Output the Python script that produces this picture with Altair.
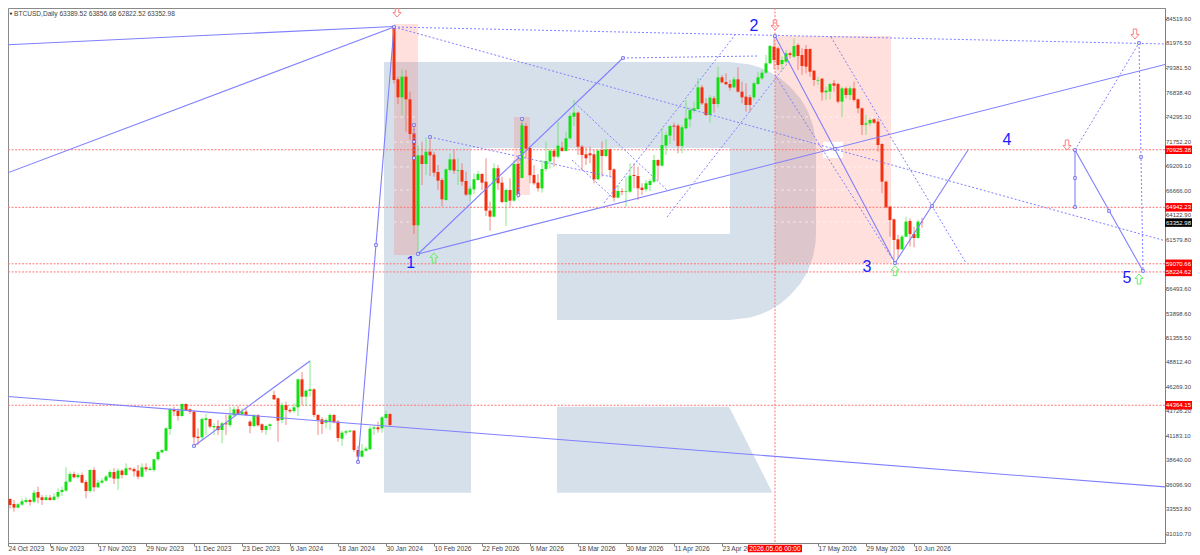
import json
import altair as alt
import pandas as pd

FONT = "Liberation Sans"
LINE = "#7f7fff"
REDLINE = "#ff7777"

opens = [31398,33581,34621,34101,33720,34032,34309,34517,34344,35349,34794,34517,34760,34517,34863,35349,35487,36423,37220,36873,37116,36388,35452,37636,35834,36319,36527,36873,37427,36735,
37566,37116,37809,37739,37566,36943,37913,37636,37636,38744,39472,39645,41897,43976,43803,43249,44496,43942,43699,41100,41031,42833,42937,42071,42209,41793,42487,42313,43318,43942,
43422,43699,42660,42209,43318,42383,41793,42209,45432,45085,42833,44392,43873,43769,44150,47060,45259,45848,46021,43353,42902,42556,42660,43353,42660,40893,41516,41620,41724,39714,
39021,39645,39784,41932,42071,41967,43041,43457,
83723,78248,76377,78525,76169,72635,63072,70348,69447,70729,70418,68616,67784,65705,68823,69932,68754,68823,67680,66259,66814,67784,68408,67611,64596,63972,69002,67507,65497,66745,
65636,69447,67992,73397,71110,68304,67507,66917,68927,69724,70833,70209,71145,70798,72115,74368,74783,71249,70452,70556,70452,67853,70903,70278,70972,68892,65947,66640,66571,
66571,68304,68200,66987,66814,67264,67611,69863,69274,71353,72392,73432,73432,71318,73155,74090,74991,75164,77417,75753,74541,76273,75684,78456,77971,77763,77417,78248,76966,76446,
76377,76377,77763,78352,78941,79911,81644,81471,79842,80085,80951,80605,81817,80778,81401,81401,79149,78110,78318,76897,76966,77833,77763,75927,77313,76620,77313,76169,75234,73536,
73674,74090,73848,71526,67611,65012,63695,61616,60577,61894,63522,62171,61755,63389.52]
highs = [35141,34863,34690,34517,34170,34690,34794,34656,35556,35903,35037,35037,35037,35210,35730,35903,37913,37462,37462,37289,37358,36596,37705,37913,36596,36769,37116,37636,37809,37809,
37705,38329,37913,37913,38155,38329,38329,37982,38744,39645,39784,42071,44046,44219,44046,44565,44565,44046,43873,41967,43110,43457,43006,42487,42833,42660,43353,44219,44219,44288,
44046,44046,42833,43457,43457,42487,42313,42487,45882,45189,44635,44739,44046,44565,47164,47823,46021,49001,46125,43457,43110,43006,43526,43457,42833,41724,41793,41793,41793,40130,
40338,40061,42209,42209,42660,43249,43803,43526,
83792,78525,79288,79218,76966,73501,71422,71769,72219,72219,70729,69343,67957,68997,70556,70903,70036,69516,68650,67160,68477,68754,68477,70036,65532,69517,69343,68130,66918,67957,
69863,70209,74021,73675,71249,69343,68408,69863,71769,71076,71076,73848,71769,72808,74714,76100,74887,71422,71180,71249,70903,70972,71769,72011,71076,68997,67264,66918,68130,
69516,69516,69170,67437,67784,67853,70383,69932,73155,72808,73501,73744,73605,73501,76100,75338,75927,78352,77659,76273,76620,76516,79565,78698,78872,78179,78525,79496,78006,77833,
76620,78006,79045,79218,80778,81817,82857,81644,80605,81298,81124,82510,81991,81471,81817,81471,79218,78525,78352,77486,77902,78179,77902,77486,77486,77555,78006,76273,75338,74541,
74194,74194,74194,71596,67715,65081,63799,62067,62067,63973,63799,62933,63626,63856.68]
lows = [31398,32958,33651,33304,33651,33928,34170,33928,34170,34170,33997,34448,34448,34448,34586,34933,35383,36319,36769,36769,36250,34690,35279,35383,35730,36180,36423,36769,36180,35556,
36769,37012,37566,36943,36665,36873,37462,37566,37462,38606,39368,39541,41274,43249,42764,43180,43803,43457,40130,40234,40754,41274,41967,41274,41274,40407,41274,42071,43249,43353,
43353,43249,41447,42071,42140,41516,41274,41793,44912,40581,42487,42313,43526,43595,43249,44392,44288,45259,43110,41274,41378,41967,41793,42487,40581,40130,41274,41516,39541,38398,
38952,39541,39714,41274,41516,41516,42971,42209,
77832,75684,74541,72808,71942,62171,60057,67264,68304,68200,68130,66745,65081,65636,68650,68408,67264,67160,66121,65532,66329,67715,66745,64042,62517,63903,66745,65359,63002,65012,
65532,65878,67957,70036,67438,67264,66571,66467,68650,68997,69170,70036,70729,70729,72011,73397,70383,68823,69343,69516,67438,67784,68130,70140,68130,65532,65878,66225,65012,
66398,66917,65705,66225,66571,66640,67438,67715,69170,70383,71526,71873,70556,70556,73051,73259,74783,75061,75580,74437,73744,74783,75338,77832,77659,77070,77313,76862,75753,74887,
74887,76100,77659,78179,78803,79808,79288,79218,79218,79911,80431,80431,79218,78699,78872,78525,77555,77659,76036,76100,76169,76966,75753,74298,76273,76100,75927,74714,72462,72462,
73397,73605,70729,66398,64839,61894,59468,59641,60507,61824,60854,60785,61685,62822.52]
closes = [33581,34586,33997,33720,34066,34378,34517,34309,35279,34760,34517,34794,34517,34863,35349,35556,36423,37220,36873,37116,36319,35452,37636,35834,36319,36527,36943,37427,36735,37566,
37116,37809,37705,37497,36943,37913,37705,37774,38744,39507,39714,41967,43976,43734,43249,44496,43873,43699,41031,40962,42937,43006,42140,42209,41793,42487,42383,43318,43942,43457,
43699,43353,42209,43318,42279,41793,42209,42383,44981,42764,44392,43873,43734,44150,47060,45259,45882,46021,43353,42833,42417,42833,43353,42590,40962,41516,41655,41724,39714,39021,
39645,39853,41932,42071,41863,43110,43457,42313,
78179,76377,78525,76169,72566,63072,70348,69447,70729,70348,68546,67715,65774,68893,69932,68754,68823,67611,66259,66883,67853,68408,67507,64596,63972,69002,67438,65497,66745,65636,
69447,66225,73467,71041,68269,67438,66917,68927,69759,70833,70209,71353,70798,72115,74437,74783,71249,70383,70036,70348,67853,70833,70278,70972,68823,65947,66640,66571,66640,
68234,68200,66917,66744,67438,67680,69863,69274,71422,72462,73397,73328,71318,73259,74194,75061,75234,77417,75753,74541,76343,75684,78456,77936,77729,77382,78248,76966,76377,75580,
75580,77833,78456,78941,79911,81713,80258,79738,80258,80951,80778,81713,80674,79634,79565,79045,78179,78179,76897,77070,77763,77590,75927,77313,76620,77313,76100,75234,73501,73674,
74021,73744,71422,67611,64943,63626,61547,60577,61894,63453,62171,61755,63453,63352.98]

price_ticks = [84519.60,81976.50,79381.50,76838.40,74295.30,71752.20,69209.10,66666.00,64122.90,61579.80,56493.60,53898.60,51355.50,48812.40,46269.30,43726.20,41183.10,38640.00,36096.90,33553.80,31010.70]
date_bars = [1.5,12,24,36,48,60,72,84,96,108,120,132,144,156,168,180,204,216,228]
date_labels = ["24 Oct 2023","5 Nov 2023","17 Nov 2023","29 Nov 2023","11 Dec 2023","23 Dec 2023","6 Jan 2024","18 Jan 2024","30 Jan 2024","10 Feb 2026","22 Feb 2026","6 Mar 2026","18 Mar 2026","30 Mar 2026","11 Apr 2026","23 Apr 2026","17 May 2026","29 May 2026","10 Jun 2026"]

level_prices = [70925.38,64942.23,59070.66,58224.62,44364.15]
last_price = [63352.98]
header = "BTCUSD,Daily  63389.52 63856.68 62822.52 63352.98"
marked_bar = [193.25]
marked_time = "2026.05.06 00:00"

solid_x = [(0,98),(0,98),(89,98),(0,291),(48,77),(104,291.25),(104,155.25),(193.25,223.25),(223.25,241.5),(268.25,268.25),(268.25,285.25)]
solid_y = [(81817,83740),(68302,83688),(38466,83688),(45327,35866),(40128,48966),(60089,79841),(60089,80465),(82752,59153),(59153,70901),(70901,64975),(70901,58322)]
dotted_x = [(155.25,189),(98,291),(98,291),(107,152.5),(143.25,166.25),(142.5,152.5),(150.5,183.25),(166.25,197),(193.25,223.25),(207.25,241),(268.25,284.25),(284.25,285.25),(103,103),(130,129.1)]
dotted_y = [(80465,80673),(83688,81921),(83688,61441),(72252,68094),(75787,66742),(69861,66015),(65391,82856),(63936,80257),(78698,59153),(82648,59153),(70901,82025),(82025,58322),(73500,70069),(74124,66223)]
node_x = [98,93.5,89,48,104,129.5,155.25,107,103,103,103,130,129.1,193.25,223.25,232.5,268.25,268.25,268.25,276.75,285.25,284.25,284.75,208.25]
node_y = [83688,61025,38466,40128,60089,70173,80465,72252,73500,71763,70069,74124,66223,82752,59153,65079,70901,67990,64975,64560,58322,82025,70173,71005]

wave_labels = ["1","2","3","4","5"]
wave_x = [102.2,188,216.25,251.25,281.25]
wave_y = [59153,83792,58737,71941,57594]
down_x = [98.75,193.25,266.25,283.25]
down_y = [85247,83896,71421,82960]
up_x = [108,223.25,284.25]
up_y = [59673,58363,57490]

pink_x = [(98,104),(128,132),(193.25,222.25)]
pink_y = [(84000,59985),(74332,66223),(82752,59153)]
pink_levels = [74332,71732,69134,66742,63416]
pale_x = [(205.25,210.25)]
pale_y = [(71732,70069)]

logo_part = ["stem","stem","top","top","low","low"] + ["bowl"] * 13 + ["leg","leg","leg"]
logo_x = [95.5,117.25,117.25,182,138.75,182, 182,187,189.5,192,194.5,197,199.5,200.75,201.5,202.75,203.375,203.5,203.5, 138.75,181.75,192.6]
logo_top = [80050,80050,80050,80050,62170,62170, 80050,79800,79488,79020,78386,77513,76307,75475,74872,73448,72076,71109,71109, 44214,44214,35275]
logo_bottom = [35275,35275,71109,71109,53228,53228, 53228,53477,53789,54257,54891,55764,56970,57802,58405,59829,61202,62170,62170, 35275,35275,35275]

x_scale = alt.Scale(domain=[1.5, 290.75], nice=False, zero=False)
y_scale = alt.Scale(domain=[30044, 85663], nice=False, zero=False)

def X(f="x", **kw):
    return alt.X(f, type="quantitative", scale=x_scale, **kw)

def Y(f="y", **kw):
    return alt.Y(f, type="quantitative", scale=y_scale, **kw)

label_map = json.dumps({str(b): t for b, t in zip(date_bars, date_labels)})
x_axis = alt.Axis(values=date_bars, labelExpr=f"{label_map}[datum.value]", title=None, grid=False,
                  labelFont=FONT, labelFontSize=6.6, labelColor="#444444", labelAlign="left",
                  labelBaseline="middle", labelPadding=2, labelOverlap=False, labelFlush=False,
                  labelBound=False, tickSize=3, tickColor="#808080", domainColor="#808080")
y_axis = alt.Axis(orient="right", values=price_ticks, labels=False, title=None, grid=False,
                  tickSize=1.5, tickColor="#808080", domainColor="#808080")

logo_df = pd.DataFrame({"part": logo_part, "x": logo_x, "top": logo_top, "bottom": logo_bottom})
logo = alt.Chart(logo_df).mark_area(color="#d6e0eb", clip=True).encode(
    x=alt.X("x:Q", scale=x_scale, axis=x_axis),
    y=alt.Y("top:Q", scale=y_scale, axis=y_axis),
    y2="bottom:Q",
    detail="part:N",
)

pink_df = pd.DataFrame({"x": [a for a, _ in pink_x], "x2": [b for _, b in pink_x],
                        "y": [a for a, _ in pink_y], "y2": [b for _, b in pink_y]})
pink = alt.Chart(pink_df).mark_rect(color="#ff6450", opacity=0.2, clip=True).encode(
    x=X(), x2="x2:Q", y=Y(), y2="y2:Q")

pale_df = pd.DataFrame({"x": [a for a, _ in pale_x], "x2": [b for _, b in pale_x],
                        "y": [a for a, _ in pale_y], "y2": [b for _, b in pale_y]})
pale = alt.Chart(pale_df).mark_rect(color="white", clip=True).encode(
    x=X(), x2="x2:Q", y=Y(), y2="y2:Q")

pl_rows = [{"x": z[0], "x2": z[1], "y": p} for z in (pink_x[0], pink_x[2]) for p in pink_levels]
pale_levels = alt.Chart(pd.DataFrame(pl_rows)).mark_rule(
    color="white", opacity=0.55, strokeDash=[3, 3], strokeWidth=1, clip=True
).encode(x=X(), x2="x2:Q", y=Y())

red_h = alt.Chart(pd.DataFrame({"y": level_prices})).mark_rule(
    color=REDLINE, strokeDash=[2, 1.5], strokeWidth=1, clip=True).encode(y=Y())
red_v = alt.Chart(pd.DataFrame({"x": marked_bar})).mark_rule(
    color=REDLINE, strokeDash=[2, 1.5], strokeWidth=1, clip=True).encode(x=X())

candles = pd.DataFrame({"i": range(len(closes)), "open": opens, "high": highs, "low": lows, "close": closes})
candles["dir"] = ["up" if c >= o else "down" for o, c in zip(opens, closes)]
wick_color = alt.Color("dir:N", scale=alt.Scale(domain=["up", "down"], range=["#55e055", "#ee5a4a"]), legend=None)
body_color = alt.Color("dir:N", scale=alt.Scale(domain=["up", "down"], range=["#12e012", "#f53010"]), legend=None)
wicks = alt.Chart(candles).mark_rule(strokeWidth=1, opacity=0.7, clip=True).encode(
    x=X("i"), y=Y("low"), y2="high:Q", color=wick_color)
bodies = alt.Chart(candles).mark_rule(strokeWidth=3, clip=True).encode(
    x=X("i"), y=Y("open"), y2="close:Q", color=body_color)

def seg_df(xs, ys):
    rows = []
    for k, (xp, yp) in enumerate(zip(xs, ys)):
        rows.append({"seg": k, "x": xp[0], "y": yp[0], "o": 0})
        rows.append({"seg": k, "x": xp[1], "y": yp[1], "o": 1})
    return pd.DataFrame(rows)

solid = alt.Chart(seg_df(solid_x, solid_y)).mark_line(color=LINE, strokeWidth=1.1, clip=True).encode(
    x=X(), y=Y(), detail="seg:N", order="o:Q")
dotted = alt.Chart(seg_df(dotted_x, dotted_y)).mark_line(color=LINE, strokeWidth=1, strokeDash=[2, 2], clip=True).encode(
    x=X(), y=Y(), detail="seg:N", order="o:Q")
nodes = alt.Chart(pd.DataFrame({"x": node_x, "y": node_y})).mark_point(
    shape="square", size=7, filled=True, fill="white", stroke="#5a5aee", strokeWidth=0.8, opacity=1, clip=True
).encode(x=X(), y=Y())

ARROW_UP = "M0,-1 L0.8,-0.1 L0.35,-0.1 L0.35,1 L-0.35,1 L-0.35,-0.1 L-0.8,-0.1 Z"
ARROW_DOWN = "M0,1 L0.8,0.1 L0.35,0.1 L0.35,-1 L-0.35,-1 L-0.35,0.1 L-0.8,0.1 Z"
down_arrows = alt.Chart(pd.DataFrame({"x": down_x, "y": down_y})).mark_point(
    shape=ARROW_DOWN, size=100, filled=False, stroke="#ff7f7f", strokeWidth=1, opacity=1, clip=True
).encode(x=X(), y=Y())
up_arrows = alt.Chart(pd.DataFrame({"x": up_x, "y": up_y})).mark_point(
    shape=ARROW_UP, size=100, filled=False, stroke="#66ee66", strokeWidth=1, opacity=1, clip=True
).encode(x=X(), y=Y())

waves = alt.Chart(pd.DataFrame({"x": wave_x, "y": wave_y, "t": wave_labels})).mark_text(
    font=FONT, fontSize=16, color="#1a1aff", align="center", baseline="middle"
).encode(x=X(), y=Y(), text="t:N")

RED_LEFT, RED_RIGHT = 1157, 1184
price_text = alt.Chart(pd.DataFrame({"y": price_ticks})).mark_text(
    font=FONT, fontSize=6, color="#444444", align="left", baseline="middle"
).encode(x=alt.value(RED_LEFT + 1), y=Y(), text=alt.Text("y:Q", format=".2f"))

tag_df = pd.DataFrame({"y": level_prices + last_price, "kind": ["level"] * len(level_prices) + ["last"]})
tag_boxes = alt.Chart(tag_df).mark_rule(strokeWidth=8.5).encode(
    x=alt.value(RED_LEFT), x2=alt.value(RED_RIGHT), y=Y(),
    color=alt.Color("kind:N", scale=alt.Scale(domain=["level", "last"], range=["#ff0000", "#000000"]), legend=None))
tag_text = alt.Chart(tag_df).mark_text(
    font=FONT, fontSize=6, color="white", align="left", baseline="middle"
).encode(x=alt.value(RED_LEFT + 1), y=Y(), text=alt.Text("y:Q", format=".2f"))

time_df = pd.DataFrame({"t": [marked_time]})
time_box = alt.Chart(time_df).mark_rule(color="#ff0000", strokeWidth=7.5).encode(
    x=alt.value(740), x2=alt.value(794), y=alt.value(540.5))
time_text = alt.Chart(time_df).mark_text(
    font=FONT, fontSize=6.6, color="white", align="center", baseline="middle"
).encode(x=alt.value(767), y=alt.value(540.5), text="t:N")

head_df = pd.DataFrame({"t": [header]})
head_text = alt.Chart(head_df).mark_text(
    font=FONT, fontSize=6.6, color="#444444", align="left", baseline="middle"
).encode(x=alt.value(6), y=alt.value(6), text="t:N")
head_mark = alt.Chart(head_df).mark_point(
    shape="triangle-down", size=8, filled=True, color="#222222", opacity=1
).encode(x=alt.value(3), y=alt.value(6))

chart = alt.layer(
    logo, pink, pale, pale_levels, red_h, red_v, wicks, bodies, solid, dotted, nodes,
    down_arrows, up_arrows, waves, price_text, tag_boxes, tag_text, time_box, time_text, head_mark, head_text,
).properties(
    width=1157, height=535,
    padding={"left": 0, "top": 0, "right": 27, "bottom": 12},
    autosize=alt.AutoSizeParams(type="none"),
    background="white",
).resolve_scale(color="independent").configure_view(stroke="#8a8a8a", strokeWidth=1)

chart.save("out.html", embed_options={"renderer": "svg", "actions": False})
